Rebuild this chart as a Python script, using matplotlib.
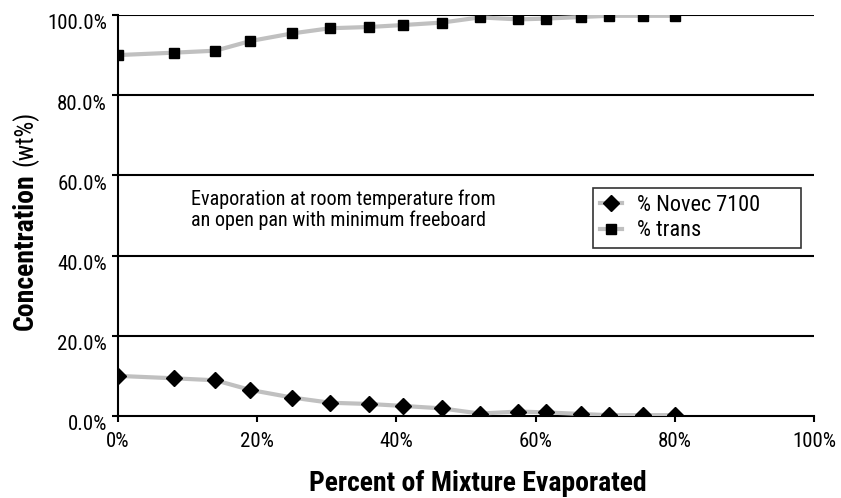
import matplotlib
matplotlib.use("Agg")
import matplotlib.pyplot as plt
from matplotlib import font_manager
from matplotlib.transforms import ScaledTranslation

# ==========================
# DATA
# ==========================

pct_evaporated = [0, 8, 14, 19, 25, 30.5, 36, 41, 46.5, 52, 57.5, 61.5, 66.5, 70.5, 75.5, 80]
novec_7100 = [10.0, 9.4, 8.9, 6.5, 4.6, 3.3, 3.0, 2.5, 1.9, 0.6, 1.1, 0.9, 0.5, 0.2, 0.2, 0.2]
trans = [90.0, 90.6, 91.1, 93.5, 95.4, 96.7, 97.0, 97.5, 98.1, 99.4, 98.9, 99.1, 99.5, 99.8, 99.8, 99.8]

x_ticks = [0, 20, 40, 60, 80, 100]
y_ticks = [0, 20, 40, 60, 80, 100]

# ==========================
# FONT (prefer a condensed sans)
# ==========================

FONT, STRETCH = "Roboto", "normal"
fonts = font_manager.fontManager.ttflist
for want in ["Liberation Sans Narrow", "Roboto Condensed", "Open Sans Condensed"]:
    if any(f.name == want for f in fonts):
        FONT = want
        break
else:
    if any(f.name == "DejaVu Sans" and "Condensed" in f.fname for f in fonts):
        FONT, STRETCH = "DejaVu Sans", "condensed"

plt.rcParams["font.family"] = [FONT, "DejaVu Sans"]
plt.rcParams["font.stretch"] = STRETCH

# ==========================
# PLOT
# ==========================

fig = plt.figure(figsize=(8.41, 4.98), dpi=100)
ax = fig.add_axes([0.1403, 0.1647, 0.8276, 0.8052])

ax.plot(pct_evaporated, novec_7100, color="#c0c0c0", lw=3,
        marker="D", ms=8.5, mfc="black", mec="black", label="% Novec 7100", zorder=3)
ax.plot(pct_evaporated, trans, color="#c0c0c0", lw=3,
        marker="s", ms=7.5, mfc="black", mec="black", label="% trans", zorder=3)

ax.set_xlim(0, 100)
ax.set_ylim(0, 100)

for y in y_ticks[1:]:
    ax.axhline(y, color="black", lw=1.5, zorder=1)

ax.set_xticks(x_ticks)
ax.set_xticklabels([f"{v}%" for v in x_ticks])
ax.set_yticks(y_ticks)
ax.set_yticklabels([f"{v:.1f}%" for v in y_ticks])
ax.tick_params(axis="both", labelsize=15, direction="out", length=4.5, width=1.5,
               color="black")
ax.tick_params(axis="y", pad=3.5)
ax.tick_params(axis="x", pad=7)

# y tick labels sit a little below their gridlines
shift = ScaledTranslation(0, -0.07, fig.dpi_scale_trans)
for lab in ax.get_yticklabels():
    lab.set_transform(lab.get_transform() + shift)

for side in ["top", "right"]:
    ax.spines[side].set_visible(False)
for side in ["left", "bottom"]:
    ax.spines[side].set_linewidth(1.5)

fig.text(0.568, 0.014, "Percent of Mixture Evaporated", fontsize=20, fontweight="bold",
         ha="center", va="baseline")

# y label: bold "Concentration" + regular "(wt%)"
fig.text(0.046, 0.495, "Concentration", rotation=90, fontsize=20, fontweight="bold",
         ha="right", va="center")
fig.text(0.046, 0.723, "(wt%)", rotation=90, fontsize=18, ha="right", va="center")

fig.text(0.227, 0.546, "Evaporation at room temperature from\nan open pan with minimum freeboard",
         fontsize=14.5, va="baseline", ha="left", linespacing=1.12)

leg = ax.legend(loc="upper left", bbox_to_anchor=(0.705, 0.504, 0.248, 0.118),
                bbox_transform=fig.transFigure, mode="expand", fontsize=16,
                borderaxespad=0, frameon=True, fancybox=False, edgecolor="black",
                borderpad=0.3, labelspacing=0.2, handlelength=1.0, handletextpad=0.7)
leg.get_frame().set_linewidth(1.2)

fig.savefig("out.png", dpi=100)
